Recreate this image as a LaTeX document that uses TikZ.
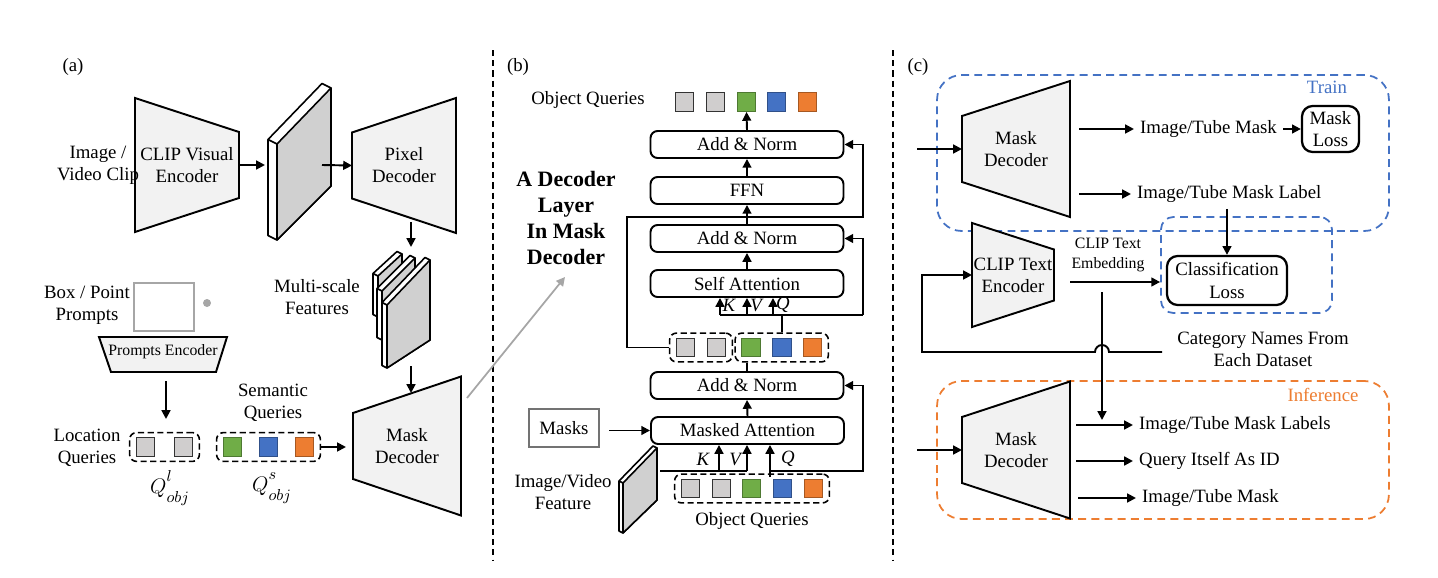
\documentclass[tikz,border=0pt]{standalone}
\usepackage{fontspec}
\setmainfont{Liberation Serif}
\usetikzlibrary{positioning, fit, calc, shapes, arrows.meta}
\usepackage{xcolor}

\definecolor{trapfill}{HTML}{F2F2F2}
\definecolor{slabgray}{HTML}{D0D0D0}
\definecolor{qgrayfill}{HTML}{D0CECE}
\definecolor{qgreen}{HTML}{70AD47}
\definecolor{qblue}{HTML}{4472C4}
\definecolor{qorange}{HTML}{ED7D31}
\definecolor{promptgray}{HTML}{A6A6A6}

% trapezoid block: name, left x, right x, centre y, left half height, right half height, text
\newcommand{\trapez}[7]{%
  \draw[trap] (#2,{#4-#5}) -- (#3,{#4-#6}) -- (#3,{#4+#6}) -- (#2,{#4+#5}) -- cycle;
  \node[align=center] (#1) at ({(#2+#3)/2},#4) {#7};
  \coordinate (#1-w) at (#2,#4);
  \coordinate (#1-e) at (#3,#4);
}
% feature slab: depth, left x, top-left y, right x, top-right y, bottom-left y, bottom-right y
\newcommand{\slab}[7]{%
  \draw[slabside] ({#2-#1},{#3-0.5*#1}) -- ({#4-#1},{#5-0.5*#1}) -- (#4,#5) -- (#4,#7) -- (#2,#6) -- ({#2-#1},{#6-0.5*#1}) -- cycle;
  \draw[slabside] (#2,#3) -- ({#2-#1},{#3-0.5*#1});
  \draw[slabface] (#2,#3) -- (#4,#5) -- (#4,#7) -- (#2,#6) -- cycle;
}
% query symbol with separated super- and subscript
\newcommand{\qobj}[1]{$Q^{\raisebox{2.5pt}{$\scriptstyle #1$}}_{\raisebox{-2pt}{$\scriptstyle obj$}}$}

\begin{document}
\begin{tikzpicture}[x=0.02cm, y=-0.02cm,
  every node/.style={font=\fontsize{10.7}{12.6}\selectfont},
  trap/.style={draw, fill=trapfill, line width=1.1pt},
  slabside/.style={draw, fill=white, line width=0.9pt, line join=round},
  slabface/.style={draw, fill=slabgray, line width=0.9pt, line join=round},
  arr/.style={-{Triangle[length=5pt,width=5pt]}, line width=1.1pt},
  link/.style={line width=1.1pt},
  zoomarr/.style={-{Triangle[length=5pt,width=5pt]}, line width=1pt, draw=promptgray},
  blk/.style={draw, rounded corners=4pt, line width=1.1pt, minimum width=3.86cm, minimum height=0.54cm, inner sep=0pt},
  qsq/.style={draw, line width=0.8pt, minimum size=0.37cm, inner sep=0pt},
  qg/.style={qsq, fill=qgrayfill, draw=black!80},
  qgr/.style={qsq, fill=qgreen, draw=qgreen!70!black},
  qbl/.style={qsq, fill=qblue, draw=qblue!70!black},
  qor/.style={qsq, fill=qorange, draw=qorange!70!black},
  qgroup/.style={draw, dash pattern=on 3.5pt off 2pt, rounded corners=4pt, line width=0.9pt, inner xsep=0.12cm, inner ysep=0.09cm},
  lossbox/.style={draw, rounded corners=6pt, line width=1.3pt, align=center, inner sep=0pt},
  divider/.style={dash pattern=on 3.5pt off 2.3pt, line width=0.7pt},
  trainbox/.style={draw=qblue, dash pattern=on 4.5pt off 3pt, line width=1pt, rounded corners=14pt},
  clsgroup/.style={draw=qblue, dash pattern=on 4.5pt off 3pt, line width=1pt, rounded corners=7pt},
  inferbox/.style={draw=qorange, dash pattern=on 4.5pt off 3pt, line width=1pt, rounded corners=14pt},
  kvq/.style={font=\fontsize{10.7}{12.6}\selectfont\itshape, inner sep=0pt},
  qlabel/.style={font=\fontsize{13}{15}\selectfont}
]
    \useasboundingbox (0,0) rectangle (1438,578);

    % Dividers and panel tags
    \draw[divider] (493,50) -- (493,560);
    \draw[divider] (893,50) -- (893,560);
    \node (tag-a) at (73,67) {(a)};
    \node (tag-b) at (518,67) {(b)};
    \node (tag-c) at (918,67) {(c)};

    % (a) CLIP visual encoder and pixel decoder
    \trapez{venc}{135}{239}{165}{67}{33}{CLIP Visual\\Encoder}
    \node[align=center] (img-in) at (98,165) {Image /\\Video Clip};
    \slab{9}{277}{144}{331}{88}{240}{186}
    \coordinate (feat-in) at (265,165);
    \coordinate (feat-out) at (322,165);
    \draw[arr] (venc-e) -- (feat-in);
    \trapez{pdec}{352}{456}{165.5}{33}{67.5}{Pixel\\Decoder}
    \draw[arr] (feat-out) -- (pdec-w);

    % (a) Multi-scale features
    \coordinate (pdec-s) at (411,222);
    \coordinate (ms-top) at (411,247);
    \draw[arr] (pdec-s) -- (ms-top);
    \slab{5}{378}{276}{402}{254}{317}{300}
    \slab{5}{382}{291}{415}{258}{340}{315}
    \slab{5}{387}{305}{430}{260}{368}{340}
    \node[align=center] (ms-lbl) at (317,297) {Multi-scale\\Features};
    \trapez{mdec}{353}{461}{446}{33}{69.5}{Mask\\Decoder}
    \coordinate (ms-bot) at (411,366);
    \coordinate (mdec-n) at (411,393);
    \draw[arr] (ms-bot) -- (mdec-n);

    % (a) Prompts
    \node[align=center] (prompt-lbl) at (87,305) {Box / Point\\Prompts};
    \node[draw=promptgray, line width=1.3pt, minimum width=1.2cm, minimum height=0.96cm] (boxprompt) at (164,307) {};
    \node[circle, fill=promptgray, minimum size=0.16cm, inner sep=0pt] (pointprompt) at (207,303) {};
    \draw[trap] (99,337) -- (227,337) -- (216,372) -- (111,372) -- cycle;
    \node[font=\fontsize{9}{11}\selectfont] (penc) at (163,352) {Prompts Encoder};
    \coordinate (penc-s) at (166,381);
    \coordinate (lq-in) at (166,419);
    \draw[arr] (penc-s) -- (lq-in);

    % (a) Location and semantic queries
    \node[align=center] (lq-lbl) at (87,448) {Location\\Queries};
    \node[qg] (lq1) at (145.5,447) {};
    \node[qg] (lq2) at (183.5,447) {};
    \node[qgroup, fit=(lq1)(lq2)] (lqbox) {};
    \node[align=center] (sq-lbl) at (273,403) {Semantic\\Queries};
    \node[qgr] (sq1) at (232.5,447) {};
    \node[qbl] (sq2) at (268.5,447) {};
    \node[qor] (sq3) at (304.5,447) {};
    \node[qgroup, fit=(sq1)(sq3)] (sqbox) {};
    \node[qlabel] (ql) at (170,488) {\qobj{l}};
    \node[qlabel] (qs) at (272,488) {\qobj{s}};
    \draw[arr, shorten >=4pt] (sqbox.east) -- (mdec-w |- sqbox.east);

    % zoom into one decoder layer
    \coordinate (zoom-from) at (467,398);
    \coordinate (zoom-to) at (565,277);
    \draw[zoomarr] (zoom-from) -- (zoom-to);

    % (b) Decoder layer blocks
    \node[font=\fontsize{12.5}{14.8}\selectfont\bfseries, align=center] (layer-lbl) at (566,217.5) {A Decoder\\Layer\\In Mask\\Decoder};
    \node[blk] (an1) at (747,144.5) {Add \& Norm};
    \node[blk] (ffn) at (747,190.5) {FFN};
    \node[blk] (an2) at (747,238.5) {Add \& Norm};
    \node[blk] (sa) at (747,283.5) {Self Attention};
    \node[blk] (an3) at (747,385.5) {Add \& Norm};
    \node[blk] (ma) at (747.5,430.5) {Masked Attention};

    % (b) Output queries
    \node (tq-lbl) at (588,100) {Object Queries};
    \node[qg] (tq1) at (684.5,102) {};
    \node[qg] (tq2) at (715.5,102) {};
    \node[qgr] (tq3) at (746.5,102) {};
    \node[qbl] (tq4) at (776.5,102) {};
    \node[qor] (tq5) at (807.5,102) {};
    \draw[arr] (an1.north) -- (tq3.south);
    \draw[arr] (ffn.north) -- (an1.south);
    \draw[arr] (an2.north) -- (ffn.south);
    \draw[arr] (sa.north) -- (an2.south);

    % (b) Intermediate queries
    \node[qg] (mq1) at (685.5,347.5) {};
    \node[qg] (mq2) at (716.5,347.5) {};
    \node[qgr] (mq3) at (751,347.5) {};
    \node[qbl] (mq4) at (782,347.5) {};
    \node[qor] (mq5) at (812.5,347.5) {};
    \node[qgroup, fit=(mq1)(mq2)] (mqg1) {};
    \node[qgroup, fit=(mq3)(mq5)] (mqg2) {};
    \draw[link] (an3.north) -- (an3.north |- mqg2.south);

    % (b) Residual paths and K/V/Q inputs of self attention
    \coordinate (res-l) at (627,217);
    \coordinate (res-r) at (863,217);
    \draw[arr] (mqg1.west) -| (res-l) -- (res-r) |- (an1.east);
    \coordinate (kvq-l) at (720,315);
    \coordinate (kvq-v) at (747,315);
    \coordinate (kvq-q) at (773,315);
    \coordinate (kvq-r) at (863,315);
    \draw[link] (kvq-l) -- (kvq-r);
    \draw[arr] (kvq-r) |- (an2.east);
    \draw[link] (mq4 |- mqg2.north) -- (mq4 |- kvq-l);
    \draw[arr] (kvq-l) -- (kvq-l |- sa.south);
    \draw[arr] (kvq-v) -- (kvq-v |- sa.south);
    \draw[arr] (kvq-q) -- (kvq-q |- sa.south);
    \node[kvq] (k1) at (729,305) {K};
    \node[kvq] (v1) at (756,305) {V};
    \node[kvq] (q1) at (783,305) {Q};

    % (b) Input queries, masks and image feature
    \node[qg] (bq1) at (690.5,488.5) {};
    \node[qg] (bq2) at (721.5,488.5) {};
    \node[qgr] (bq3) at (751.5,488.5) {};
    \node[qbl] (bq4) at (782.5,488.5) {};
    \node[qor] (bq5) at (813.5,488.5) {};
    \node[qgroup, fit=(bq1)(bq5)] (bqg) {};
    \node (bq-lbl) at (752,521) {Object Queries};
    \slab{4}{623}{483}{657}{448}{533}{500}
    \node[align=center] (ivf-lbl) at (563,492) {Image/Video\\Feature};
    \node[draw=black!55, line width=1.5pt, minimum width=1.4cm, minimum height=0.76cm] (masks) at (564,428) {Masks};
    \draw[arr, shorten <=5pt] (masks.east |- ma.west) -- (ma.west);
    \coordinate (ivf-out) at (660,471);
    \coordinate (k-tap) at (719,471);
    \coordinate (v-tap) at (747,471);
    \coordinate (q-tap) at (770,477);
    \coordinate (res3-r) at (863,471);
    \draw[link] (ivf-out) -- (v-tap);
    \draw[arr] (k-tap) -- (k-tap |- ma.south);
    \draw[arr] (v-tap) -- (v-tap |- ma.south);
    \draw[arr] (q-tap) -- (q-tap |- ma.south);
    \draw[arr] (q-tap |- ivf-out) -- (res3-r) |- (an3.east);
    \draw[arr] (ma.north) -- (an3.south);
    \node[kvq] (k2) at (703,459) {K};
    \node[kvq] (v2) at (735,459) {V};
    \node[kvq] (q2) at (788,459) {Q};

    % (c) Train branch
    \node[trainbox, minimum width=9.04cm, minimum height=3.12cm] (train) at (1163,153) {};
    \node[text=qblue] (train-lbl) at (1327,87) {Train};
    \trapez{mdtr}{962}{1070}{149}{33}{68}{Mask\\Decoder}
    \coordinate (mdtr-in) at (917,149);
    \draw[arr] (mdtr-in) -- (mdtr-w);
    \node[anchor=west] (tube-mask) at (1134,129) {Image/Tube Mask};
    \node[lossbox, minimum width=1.14cm, minimum height=0.92cm] (mloss) at (1330.5,129) {Mask\\Loss};
    \node[anchor=west] (tube-label) at (1131,194) {Image/Tube Mask Label};
    \coordinate (mdtr-o1) at (1079,129);
    \coordinate (mdtr-o2) at (1079,194);
    \draw[arr] (mdtr-o1) -- (tube-mask.west);
    \draw[arr] (tube-mask.east) -- (mloss.west);
    \draw[arr] (mdtr-o2) -- (tube-label.west);

    % (c) Text branch
    \node[clsgroup, minimum width=3.42cm, minimum height=1.92cm] (clsgrp) at (1246.5,265) {};
    \node[lossbox, minimum width=2.4cm, minimum height=0.98cm] (cls) at (1227,280.5) {Classification\\Loss};
    \draw[arr] (tube-label.south -| cls) -- (cls.north);
    \trapez{tenc}{972}{1054}{275}{52}{25.5}{CLIP Text\\Encoder}
    \coordinate (tenc-o) at (1070,282);
    \draw[arr] (tenc-o) -- (clsgrp.west |- tenc-o);
    \node[font=\fontsize{9}{11}\selectfont, align=center] (emb-lbl) at (1108,255) {CLIP Text\\Embedding};
    \node[align=center, inner xsep=0.3cm] (cat) at (1263,349.5) {Category Names From\\Each Dataset};
    \coordinate (hop) at (1102,352);
    \coordinate (cat-loop) at (922,352);
    \draw[arr] (cat.west |- hop) -- ([xshift=0.14cm]hop) arc[start angle=0, end angle=180, radius=0.14cm] -- (cat-loop) |- (tenc-w);
    \coordinate (emb-tap) at (1102,292);
    \coordinate (lbl-in) at (1102,420);
    \draw[arr] (emb-tap) -- (lbl-in);

    % (c) Inference branch
    \node[inferbox, minimum width=9.04cm, minimum height=2.76cm] (infer) at (1163,450) {};
    \node[text=qorange] (infer-lbl) at (1323,395) {Inference};
    \trapez{mdinf}{962}{1070}{450}{33}{68.5}{Mask\\Decoder}
    \coordinate (mdinf-in) at (917,450);
    \draw[arr] (mdinf-in) -- (mdinf-w);
    \node[anchor=west] (inf-labels) at (1133,425) {Image/Tube Mask Labels};
    \node[anchor=west] (inf-id) at (1133,461) {Query Itself As ID};
    \node[anchor=west] (inf-mask) at (1136,498) {Image/Tube Mask};
    \coordinate (mdinf-o1) at (1076,425);
    \coordinate (mdinf-o2) at (1076,461);
    \coordinate (mdinf-o3) at (1078,498);
    \draw[arr] (mdinf-o1) -- (inf-labels.west);
    \draw[arr, line width=1.5pt] (mdinf-o2) -- (inf-id.west);
    \draw[arr] (mdinf-o3) -- (inf-mask.west);

\end{tikzpicture}
\end{document}
